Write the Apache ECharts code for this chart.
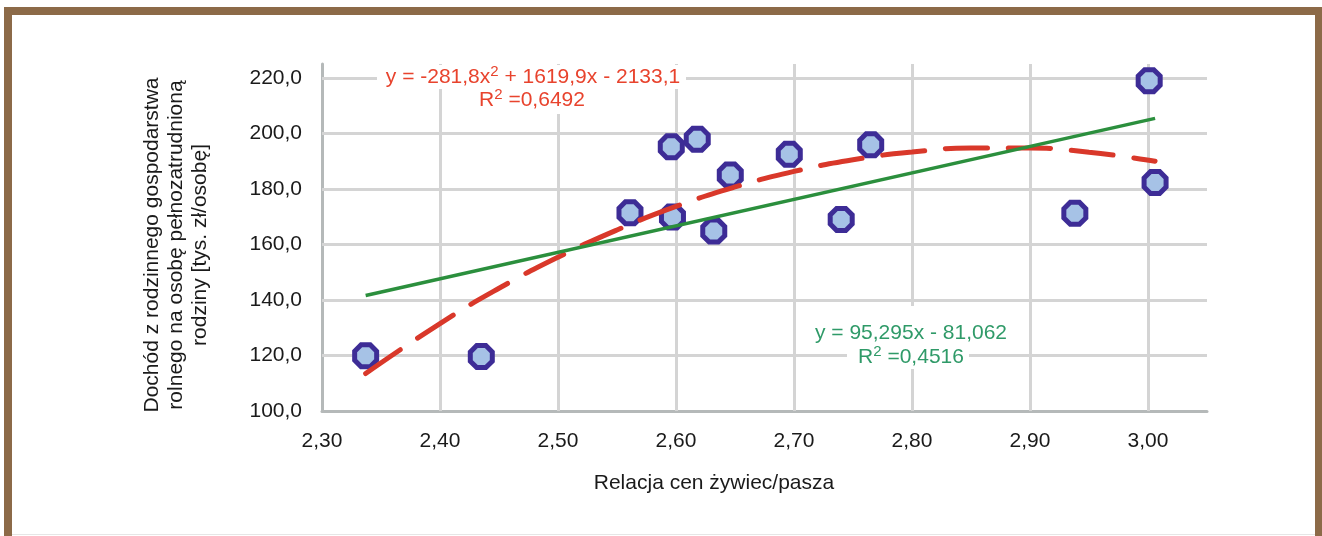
<!DOCTYPE html>
<html><head><meta charset="utf-8">
<script src="https://cdn.jsdelivr.net/npm/echarts@6/dist/echarts.min.js"></script>
<style>html,body{margin:0;padding:0;background:#fff}#c{width:1322px;height:536px}</style>
</head><body><div id="c"></div>
<script>
// ---- data ----
const priceRatio = [2.337, 2.435, 2.561, 2.596, 2.618, 2.597, 2.646, 2.632, 2.696, 2.740, 2.765, 2.938, 3.001, 3.006];
const income     = [119.9, 119.6, 171.4, 195.2, 197.9, 169.9, 185.0, 164.8, 192.5, 169.0, 195.9, 171.2, 219.0, 182.3];
const quadTrendX = [2.337, 2.40, 2.45, 2.50, 2.55, 2.60, 2.65, 2.70, 2.75, 2.80, 2.85, 2.90, 2.95, 3.006];
const quadTrendY = [113.5, 131.5, 144.2, 155.4, 165.2, 173.7, 180.7, 186.3, 190.5, 193.3, 194.7, 194.7, 193.2, 190.0];
const linTrendX  = [2.337, 3.006];
const linTrendY  = [141.6, 205.4];
const xTicks = [2.30, 2.40, 2.50, 2.60, 2.70, 2.80, 2.90, 3.00];
const yTicks = [100, 120, 140, 160, 180, 200, 220];
// equation texts: {n|...} normal, {s|...} superscript
const quadEquation = ['{n|y = -281,8x}{s|2}{n| + 1619,9x - 2133,1}', '{n|R}{s|2}{n| =0,6492}'];
const linEquation  = ['{n|y = 95,295x - 81,062}', '{n|R}{s|2}{n| =0,4516}'];
const xTitle = 'Relacja cen żywiec/pasza';
const yTitle = ['Dochód z rodzinnego gospodarstwa', 'rolnego na osobę pełnozatrudnioną', 'rodziny [tys. zł/osobę]'];

const FONT = '"Liberation Sans", Arial, sans-serif';
const zip = (a, b) => a.map((v, i) => [v, b[i]]);
const isTick = (arr, v) => arr.some(t => Math.abs(t - v) < 1e-6);
const octagon = 'path://M29.3,0 L70.7,0 L100,29.3 L100,70.7 L70.7,100 L29.3,100 L0,70.7 L0,29.3 Z';

const chart = echarts.init(document.getElementById('c'), null, {renderer: 'canvas'});

function txt(text, x, y, color, extra) {
  return {
    type: 'text', x: x, y: y, z: 100, silent: true,
    style: Object.assign({text: text, font: '21px ' + FONT, fill: color,
      align: 'center', verticalAlign: 'middle', textAlign: 'center', textVerticalAlign: 'middle'}, extra || {})
  };
}
function eq(text, x, y, color) {
  return txt(text, x, y, color, {
    rich: {
      n: {font: '21px ' + FONT, fill: color, lineHeight: 24, verticalAlign: 'bottom'},
      s: {font: '15px ' + FONT, fill: color, lineHeight: 15, verticalAlign: 'top'}
    }
  });
}
function box(x, y, w, h, fill) {
  return {type: 'rect', z: 90, silent: true, shape: {x: x, y: y, width: w, height: h}, style: {fill: fill}};
}

chart.setOption({
  animation: false,
  backgroundColor: '#ffffff',
  grid: {left: 322, top: 64, width: 885, height: 347, containLabel: false},
  xAxis: {
    type: 'value', min: 2.3, max: 3.05, interval: 0.1,
    axisLine: {show: true, lineStyle: {color: '#b5b9b9', width: 3}},
    axisTick: {show: false}, splitLine: {show: false},
    axisLabel: {fontFamily: FONT, fontSize: 21, color: '#1a1a1a', margin: 20,
      formatter: v => isTick(xTicks, v) ? v.toFixed(2).replace('.', ',') : ''}
  },
  yAxis: {
    type: 'value', min: 100, max: 225, interval: 20,
    axisLine: {show: true, lineStyle: {color: '#b5b9b9', width: 3}},
    axisTick: {show: false}, splitLine: {show: false},
    axisLabel: {fontFamily: FONT, fontSize: 21, color: '#1a1a1a', margin: 20,
      formatter: v => isTick(yTicks, v) ? v.toFixed(1).replace('.', ',') : ''}
  },
  series: [
    {
      type: 'line', data: [], silent: true, z: 1,
      markLine: {
        silent: true, z: 1, animation: false, symbol: ['none', 'none'],
        label: {show: false}, emphasis: {disabled: true},
        lineStyle: {color: '#d4d4d4', width: 3, type: 'solid'},
        data: xTicks.slice(1).map(v => ({xAxis: v})).concat(yTicks.slice(1).map(v => ({yAxis: v})))
      }
    },
    {
      type: 'scatter', z: 3, silent: true,
      data: zip(priceRatio, income),
      symbol: octagon, symbolSize: 22,
      itemStyle: {color: '#a6c2e6', borderColor: '#3d2c96', borderWidth: 5, opacity: 1}
    },
    {
      type: 'line', z: 4, silent: true, smooth: true, showSymbol: false, symbol: 'none',
      data: zip(quadTrendX, quadTrendY),
      lineStyle: {color: '#d9382a', width: 5, type: [42, 21], cap: 'round'}
    },
    {
      type: 'line', z: 4, silent: true, showSymbol: false, symbol: 'none',
      data: zip(linTrendX, linTrendY),
      lineStyle: {color: '#2b8f3d', width: 3.5}
    }
  ],
  graphic: [
    {type: 'rect', silent: true, shape: {x: 4, y: 7, width: 8, height: 529}, style: {fill: '#8c6a48'}},
    {type: 'rect', silent: true, shape: {x: 4, y: 7, width: 1318, height: 8}, style: {fill: '#8c6a48'}},
    {type: 'rect', silent: true, shape: {x: 1315, y: 7, width: 7, height: 529}, style: {fill: '#8c6a48'}},
    {type: 'rect', silent: true, shape: {x: 12, y: 534, width: 1303, height: 1}, style: {fill: '#e6e6e6'}},
    box(377, 65, 309, 24, '#ffffff'),
    box(475, 89, 114, 25, '#ffffff'),
    box(812, 306, 199, 39, '#ffffff'),
    box(847, 345, 122, 24, '#ffffff'),
    eq(quadEquation[0], 533, 76, '#e8432d'),
    eq(quadEquation[1], 532, 99, '#e8432d'),
    eq(linEquation[0], 911, 332, '#2f9a68'),
    eq(linEquation[1], 911, 356, '#2f9a68'),
    txt(xTitle, 714, 483, '#1a1a1a'),
    Object.assign(txt(yTitle.join('\n'), 176, 245, '#1a1a1a', {lineHeight: 24}), {rotation: Math.PI / 2})
  ]
});
</script>
</body></html>
